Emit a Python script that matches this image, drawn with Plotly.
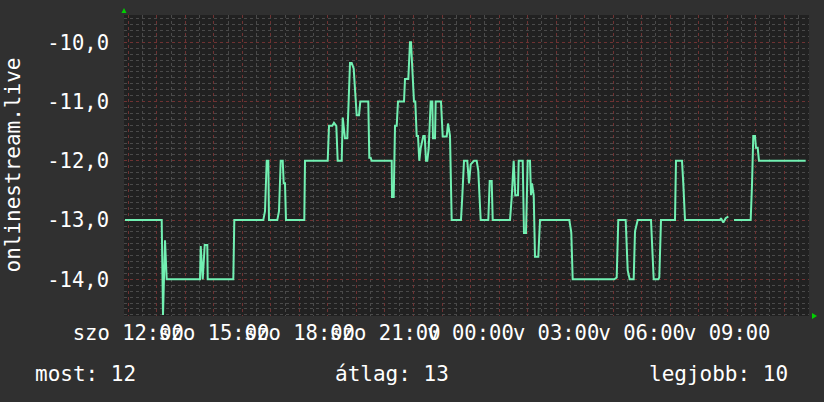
import plotly.graph_objects as go

# hours since Saturday 12:00
hours = [-0.116, 1.171, 1.217, 1.287, 1.346, 2.514, 2.539, 2.609, 2.679, 2.770, 2.784, 3.682, 3.717,
         4.733, 4.793, 4.853, 4.909, 4.933, 5.224, 5.284, 5.344, 5.414, 5.449, 5.494, 5.529, 6.171, 6.196,
         6.992, 7.037, 7.153, 7.213, 7.293, 7.342, 7.483, 7.518, 7.598, 7.679, 7.714, 7.774, 7.833, 7.903,
         7.949, 8.008, 8.089, 8.135, 8.415, 8.450, 8.499, 8.534, 9.236, 9.247, 9.306, 9.352, 9.411, 9.457,
         9.667, 9.702, 9.818, 9.877, 9.912, 9.958, 10.017, 10.063, 10.112, 10.158, 10.203, 10.252, 10.344,
         10.393, 10.438, 10.484, 10.533, 10.603, 10.659, 10.684, 10.754, 10.778, 10.964, 11.024, 11.164,
         11.210, 11.280, 11.339, 11.665, 11.711, 11.771, 11.886, 11.946, 12.006, 12.121, 12.216, 12.272,
         12.356, 12.623, 12.672, 12.742, 12.777, 13.384, 13.443, 13.513, 13.569, 13.664, 13.689, 13.829,
         13.874, 13.945, 14.004, 14.085, 14.120, 14.155, 14.215, 14.260, 14.376, 14.436, 15.463, 15.533,
         15.582, 17.041, 17.125, 17.181, 17.440, 17.511, 17.581, 17.721, 17.767, 17.861, 18.328, 18.373,
         18.422, 18.584, 18.619, 18.678, 19.169, 19.204, 19.415, 19.460, 19.520, 20.747, 20.782, 20.863,
         20.947, 21.038, 21.10, 21.238, 21.823, 21.869, 21.914, 21.974, 22.009, 22.069, 22.114, 23.752]
values = [-13.0, -13.0, -14.6, -13.34, -14.0, -14.0, -13.44, -14.0, -13.42, -13.42, -14.0, -14.0, -13.0,
          -13.0, -12.85, -12.0, -12.0, -13.0, -13.0, -12.85, -12.0, -12.0, -12.38, -12.38, -13.0, -13.0, -12.0,
          -12.0, -11.41, -11.41, -11.36, -11.41, -12.0, -12.0, -11.27, -11.62, -11.62, -11.0, -10.35, -10.35, -10.44,
          -10.79, -11.23, -11.23, -11.0, -11.0, -11.95, -11.95, -12.0, -12.0, -12.61, -12.61, -11.41, -11.41, -11.0,
          -11.0, -10.62, -10.62, -10.0, -10.0, -10.41, -11.0, -11.0, -11.58, -11.58, -12.0, -11.79, -11.58,
          -11.58, -12.0, -12.0, -11.79, -11.0, -11.0, -11.62, -11.62, -11.0, -11.0, -11.59, -11.59,
          -11.37, -11.58, -13.0, -13.0, -12.6, -12.0, -12.0, -12.38, -12.06, -12.0, -12.0, -12.17,
          -13.0, -13.0, -12.34, -12.34, -13.0, -13.0, -12.62, -12.0, -12.58, -12.58, -12.0, -12.0,
          -13.22, -13.22, -12.0, -12.0, -12.58, -12.38, -12.58, -13.62, -13.62, -13.0, -13.0, -13.21,
          -14.0, -14.0, -13.97, -13.0, -13.0, -13.85, -14.0, -14.0, -13.19, -13.0, -13.0, -13.62,
          -14.0, -14.0, -13.97, -13.0, -13.0, -12.0, -12.0, -12.38, -13.0, -13.0, -12.97, -13.04,
          -12.97, -12.94, None, -13.0, -13.0, -12.41, -11.58, -11.58, -11.78, -11.78, -12.0, -12.0]

x_tickvals = list(range(0, 24))
x_labels = {0: "szo 12:00", 3: "szo 15:00", 6: "szo 18:00", 9: "szo 21:00",
            12: "v 00:00", 15: "v 03:00", 18: "v 06:00", 21: "v 09:00"}
x_ticktext = [x_labels.get(h, "") for h in x_tickvals]
y_tickvals = [-14, -13, -12, -11, -10]
y_ticktext = ["-14,0", "-13,0", "-12,0", "-11,0", "-10,0"]

series_name = "onlinestream.live"
stats = ["most: 12", "átlag: 13", "legjobb: 10"]

FONT = "DejaVu Sans Mono"
LINE = "#72f0b2"
MAJOR = "#6e3232"
MINOR = "#4a4a4a"

fig = go.Figure()
fig.add_trace(go.Scatter(x=hours, y=values, mode="lines", connectgaps=False,
                         line=dict(color=LINE, width=2), showlegend=False, hoverinfo="skip"))

fig.update_layout(
    width=824, height=402,
    margin=dict(l=124, r=15, t=15, b=86),
    paper_bgcolor="#303030",
    plot_bgcolor="#212121",
    font=dict(family=FONT, size=20, color="#ffffff"),
    showlegend=False,
)
fig.update_xaxes(
    range=[-0.151, 23.868], tickmode="array", tickvals=x_tickvals, ticktext=x_ticktext,
    tickangle=0, showgrid=True, gridcolor=MAJOR, griddash="dot", gridwidth=1,
    zeroline=False, showline=False, ticks="", tickfont=dict(family=FONT, size=20.5, color="#ffffff"),
    minor=dict(tickmode="linear", tick0=0, dtick=0.5, showgrid=True, gridcolor=MINOR, griddash="dot", gridwidth=1),
    ticklabelstandoff=2,
)
fig.update_yaxes(
    range=[-14.619, -9.539], tickmode="array", tickvals=y_tickvals, ticktext=y_ticktext,
    showgrid=True, gridcolor=MAJOR, griddash="dot", gridwidth=1,
    zeroline=False, showline=False, ticks="", tickfont=dict(family=FONT, size=20.5, color="#ffffff"),
    minor=dict(tickmode="linear", tick0=0, dtick=0.1, showgrid=True, gridcolor=MINOR, griddash="dot", gridwidth=1),
    ticklabelstandoff=14,
)

# rotated series name
fig.add_annotation(text=series_name, xref="paper", yref="paper", x=-0.1635, y=0.5,
                   xanchor="center", yanchor="middle", textangle=-90, showarrow=False,
                   font=dict(family=FONT, size=21, color="#ffffff"))

# statistics row
fig.add_annotation(text=stats[0], xref="paper", yref="paper", x=-0.1328, y=-0.1927,
                   xanchor="left", yanchor="middle", showarrow=False,
                   font=dict(family=FONT, size=21, color="#ffffff"))
fig.add_annotation(text=stats[1], xref="paper", yref="paper", x=0.3051, y=-0.1927,
                   xanchor="left", yanchor="middle", showarrow=False,
                   font=dict(family=FONT, size=21, color="#ffffff"))
fig.add_annotation(text=stats[2], xref="paper", yref="paper", x=0.9723, y=-0.1927,
                   xanchor="right", yanchor="middle", showarrow=False,
                   font=dict(family=FONT, size=21, color="#ffffff"))

# axis arrows
fig.add_shape(type="path", xref="paper", yref="paper", xsizemode="pixel", ysizemode="pixel",
              xanchor=0, yanchor=1, path="M -2.5 2 L 2.5 2 L 0 7 Z",
              fillcolor="#00d000", line=dict(width=0))
fig.add_shape(type="path", xref="paper", yref="paper", xsizemode="pixel", ysizemode="pixel",
              xanchor=1, yanchor=0, path="M 3 -3 L 3 3 L 8 0 Z",
              fillcolor="#00d000", line=dict(width=0))

fig.write_html("out.html", config={"displayModeBar": False},
               post_script="document.body.style.margin='0';document.body.style.overflow='hidden';")
